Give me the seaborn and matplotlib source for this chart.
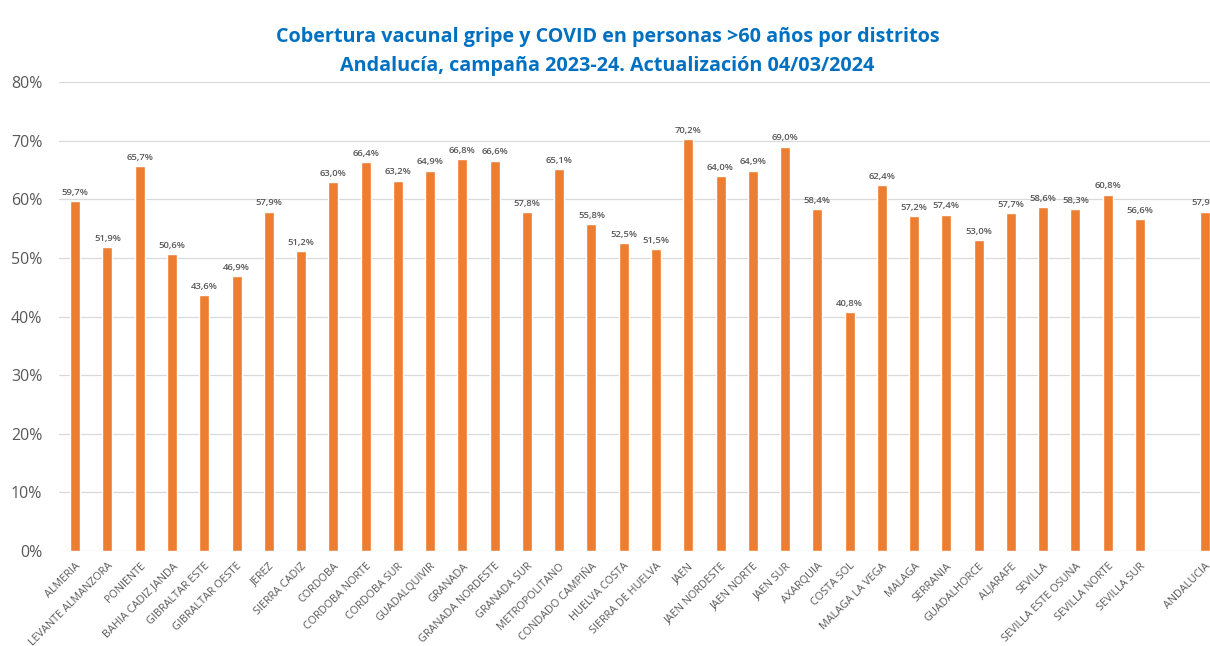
import numpy as np
import pandas as pd
import matplotlib
matplotlib.use("Agg")
import matplotlib.pyplot as plt
import seaborn as sns
from matplotlib.ticker import FuncFormatter, MultipleLocator

# ---- Data ----
districts = [
    "ALMERIA", "LEVANTE ALMANZORA", "PONIENTE", "BAHIA CADIZ JANDA",
    "GIBRALTAR ESTE", "GIBRALTAR OESTE", "JEREZ", "SIERRA CADIZ",
    "CORDOBA", "CORDOBA NORTE", "CORDOBA SUR", "GUADALQUIVIR",
    "GRANADA", "GRANADA NORDESTE", "GRANADA SUR", "METROPOLITANO",
    "CONDADO CAMPIÑA", "HUELVA COSTA", "SIERRA DE HUELVA", "JAEN",
    "JAEN NORDESTE", "JAEN NORTE", "JAEN SUR", "AXARQUIA", "COSTA SOL",
    "MALAGA LA VEGA", "MALAGA", "SERRANIA", "GUADALHORCE", "ALJARAFE",
    "SEVILLA", "SEVILLA ESTE OSUNA", "SEVILLA NORTE", "SEVILLA SUR",
]
coverage = [
    59.7, 51.9, 65.7, 50.6, 43.6, 46.9, 57.9, 51.2,
    63.0, 66.4, 63.2, 64.9, 66.8, 66.6, 57.8, 65.1,
    55.8, 52.5, 51.5, 70.2, 64.0, 64.9, 69.0, 58.4, 40.8,
    62.4, 57.2, 57.4, 53.0, 57.7, 58.6, 58.3, 60.8, 56.6,
]
total_label = "ANDALUCIA"
total_value = 57.9

title = ("Cobertura vacunal gripe y COVID en personas >60 años por distritos\n"
         "Andalucía, campaña 2023-24. Actualización 04/03/2024")

# empty slot between the districts and the regional total
order = districts + [" "] + [total_label]

df = pd.DataFrame({
    "distrito": districts + [total_label],
    "cobertura": coverage + [total_value],
})

# ---- Plot ----
sns.set_theme(style="white")
plt.rcParams["font.family"] = ["Open Sans", "DejaVu Sans"]

fig = plt.figure(figsize=(12.1, 6.46), dpi=100)
# axes run slightly past the right edge, as in the cropped original
ax = fig.add_axes([0.0488, 0.147, 0.96, 0.726])

sns.barplot(data=df, x="distrito", y="cobertura", order=order,
            color="#ED7D31", saturation=1, width=0.31, ax=ax)

for bar in ax.patches:
    h = bar.get_height()
    if np.isnan(h):
        continue
    ax.annotate(f"{h:.1f}%".replace(".", ","),
                (bar.get_x() + bar.get_width() / 2, h),
                xytext=(0, 3), textcoords="offset points",
                ha="center", va="bottom", fontsize=6.8,
                color="#595959", fontweight="semibold")

ax.set_ylim(0, 80)
ax.set_xlim(-0.5, len(order) - 0.5)
ax.yaxis.set_major_locator(MultipleLocator(10))
ax.yaxis.set_major_formatter(FuncFormatter(lambda v, _: f"{v:.0f}%"))
ax.grid(axis="y", color="#D9D9D9", linewidth=0.9)
ax.set_axisbelow(True)
for s in ax.spines.values():
    s.set_visible(False)

ax.set_xlabel("")
ax.set_ylabel("")
ax.tick_params(axis="y", labelsize=11.5, labelcolor="#595959", length=0, pad=12)
ax.tick_params(axis="x", labelsize=7.8, labelcolor="#595959", length=0, pad=7)
plt.setp(ax.get_xticklabels(), rotation=45, ha="right", rotation_mode="anchor")

fig.text(0.502, 0.92, title, ha="center", va="center", fontsize=14.2,
         fontweight="bold", color="#0070C0", linespacing=1.6)

fig.savefig("out.png", dpi=100)
